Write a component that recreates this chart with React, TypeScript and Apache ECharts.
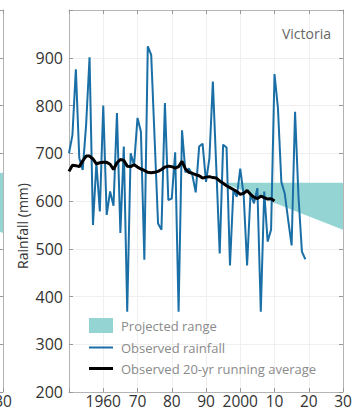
import { useEffect, useRef } from "react";
import * as echarts from "echarts";

// Annual rainfall, Victoria (mm)
const years = [
  1950, 1951, 1952, 1953, 1954, 1955, 1956, 1957, 1958, 1959,
  1960, 1961, 1962, 1963, 1964, 1965, 1966, 1967, 1968, 1969,
  1970, 1971, 1972, 1973, 1974, 1975, 1976, 1977, 1978, 1979,
  1980, 1981, 1982, 1983, 1984, 1985, 1986, 1987, 1988, 1989,
  1990, 1991, 1992, 1993, 1994, 1995, 1996, 1997, 1998, 1999,
  2000, 2001, 2002, 2003, 2004, 2005, 2006, 2007, 2008, 2009,
  2010, 2011, 2012, 2013, 2014, 2015, 2016, 2017, 2018, 2019,
];
const rainfall = [
  700, 738, 876, 690, 665, 760, 901, 550, 680, 578,
  800, 571, 620, 590, 784, 533, 714, 368, 700, 675,
  774, 745, 477, 924, 906, 730, 553, 540, 805, 602,
  605, 702, 368, 748, 660, 668, 655, 618, 714, 720,
  640, 690, 850, 670, 490, 718, 712, 465, 623, 609,
  668, 612, 465, 616, 595, 627, 368, 620, 515, 540,
  866, 795, 640, 615, 560, 507, 787, 610, 494, 478,
];
// 20-yr running average, 1950–2010
const runningAverage = [
  662, 675, 674, 672, 684, 694, 694, 688, 678, 680,
  681, 681, 677, 666, 680, 687, 685, 673, 672, 676,
  671, 667, 664, 660, 659, 660, 662, 666, 671, 673,
  672, 669, 672, 683, 667, 660, 658, 655, 653, 648,
  650, 651, 649, 648, 642, 637, 632, 628, 624, 620,
  614, 616, 622, 614, 608, 605, 610, 607, 604, 605,
  600,
];
// Projected range
const projYears = [1995, 2030];
const projLow = [638, 540];
const projHigh = [638, 638];
// Neighbouring panel's projected range (only its right edge shows)
const sideProjYears = [1995, 2030];
const sideProjLow = [640, 533];
const sideProjHigh = [640, 659];

const decadeTicks = [1950, 1960, 1970, 1980, 1990, 2000, 2010, 2020, 2030];
const decadeLabels = ["", "1960", "70", "80", "90", "2000", "10", "20", "30"];
const sideDecadeLabels = ["", "", "", "", "", "", "", "", "30"];

const FONT = "'Open Sans', 'Noto Sans', sans-serif";
const TEAL = "#94d5d3";
const BLUE = "#1a6fa6";
const FRAME = "#b4b4b4";

// Filled band between low and high values, drawn through the axis scales
function bandSeries(
  name: string,
  xs: number[],
  lo: number[],
  hi: number[],
  axisIndex: number
) {
  return {
    name,
    type: "custom",
    xAxisIndex: axisIndex,
    yAxisIndex: axisIndex,
    clip: true,
    silent: true,
    itemStyle: { color: TEAL },
    data: xs.map((x, i) => [x, lo[i], hi[i]]),
    encode: { x: 0, y: [1, 2] },
    renderItem: (params: any, api: any) => {
      if (params.dataIndex !== 0) return { type: "group", children: [] };
      const upper = xs.map((x, i) => api.coord([x, hi[i]]));
      const lower = xs.map((x, i) => api.coord([x, lo[i]])).reverse();
      return {
        type: "polygon",
        shape: { points: [...upper, ...lower] },
        style: { fill: TEAL },
      };
    },
  };
}

export default function App() {
  const ref = useRef<HTMLDivElement>(null);

  useEffect(() => {
    const chart = echarts.init(ref.current!, null, { renderer: "svg" });

    const xLabel = (labels: string[]) => (v: number) => {
      const i = decadeTicks.indexOf(v);
      return i >= 0 ? labels[i] : "";
    };
    const frameAxis = {
      axisLine: { show: true, lineStyle: { color: FRAME, width: 1 } },
      axisTick: { show: true, inside: true, length: 4, lineStyle: { color: "#999" } },
    };
    const xCommon = { type: "value", min: 1950, max: 2030, interval: 10 };
    const yCommon = { type: "value", min: 200, max: 1000, interval: 100 };
    const tickFont = { color: "#333", fontSize: 16, lineHeight: 16, fontFamily: FONT };
    const xTickFont = { color: "#333", fontSize: 15.5, lineHeight: 15, fontFamily: FONT };

    const pairs = (xs: number[], ys: number[]) => xs.map((x, i) => [x, ys[i]]);

    chart.setOption({
      animation: false,
      backgroundColor: "#ffffff",
      textStyle: { fontFamily: FONT },
      title: {
        text: "Victoria",
        right: 26,
        top: 26,
        padding: 0,
        textStyle: { fontSize: 14, fontWeight: "normal", color: "#666", fontFamily: FONT },
      },
      legend: {
        orient: "vertical",
        left: 89,
        top: 318,
        padding: 0,
        itemWidth: 24,
        itemHeight: 15,
        itemGap: 8,
        textStyle: { color: "#8a8a8a", fontSize: 13, fontFamily: FONT, padding: [0, 0, 0, 3] },
        data: [
          { name: "Projected range", icon: "rect", itemStyle: { color: TEAL } },
          { name: "Observed rainfall", icon: "path://M0,0H24V2H0Z", itemStyle: { color: BLUE } },
          {
            name: "Observed 20-yr running average",
            icon: "path://M0,0H24V3H0Z",
            itemStyle: { color: "#000" },
          },
        ],
      },
      grid: [
        { left: 69, right: 14, top: 10, bottom: 18, outerBoundsMode: "none" },
        { right: 354, width: 274, top: 10, bottom: 18, outerBoundsMode: "none" },
      ],
      xAxis: [
        {
          ...xCommon,
          gridIndex: 0,
          position: "bottom",
          ...frameAxis,
          axisLabel: { formatter: xLabel(decadeLabels), margin: 1, ...xTickFont },
          splitLine: { show: true, lineStyle: { color: "#efefef" } },
        },
        {
          ...xCommon,
          gridIndex: 0,
          position: "top",
          ...frameAxis,
          axisLabel: { show: false },
          splitLine: { show: false },
        },
        {
          ...xCommon,
          gridIndex: 1,
          position: "bottom",
          ...frameAxis,
          axisLabel: { formatter: xLabel(sideDecadeLabels), margin: 1, ...xTickFont },
          splitLine: { show: false },
        },
        {
          ...xCommon,
          gridIndex: 1,
          position: "top",
          ...frameAxis,
          axisLabel: { show: false },
          splitLine: { show: false },
        },
      ],
      yAxis: [
        {
          ...yCommon,
          gridIndex: 0,
          position: "left",
          ...frameAxis,
          axisLabel: {
            formatter: (v: number) => (v === 1000 ? "" : String(v)),
            margin: 6,
            ...tickFont,
          },
          splitLine: { show: true, lineStyle: { color: "#efefef" } },
        },
        {
          ...yCommon,
          gridIndex: 0,
          position: "right",
          ...frameAxis,
          axisLabel: { show: false },
          splitLine: { show: false },
        },
        {
          ...yCommon,
          gridIndex: 1,
          position: "right",
          ...frameAxis,
          axisLabel: { show: false },
          splitLine: { show: false },
        },
      ],
      graphic: [
        {
          type: "text",
          x: 22,
          y: 226,
          rotation: Math.PI / 2,
          style: {
            text: "Rainfall (mm)",
            fill: "#333",
            fontSize: 14,
            fontFamily: FONT,
            textAlign: "center",
            textVerticalAlign: "middle",
          },
        },
      ],
      series: [
        bandSeries("side-range", sideProjYears, sideProjLow, sideProjHigh, 2),
        bandSeries("Projected range", projYears, projLow, projHigh, 0),
        {
          name: "Observed rainfall",
          type: "line",
          xAxisIndex: 0,
          yAxisIndex: 0,
          symbol: "none",
          color: BLUE,
          lineStyle: { color: BLUE, width: 2 },
          data: pairs(years, rainfall),
        },
        {
          name: "Observed 20-yr running average",
          type: "line",
          xAxisIndex: 0,
          yAxisIndex: 0,
          symbol: "none",
          color: "#000",
          lineStyle: { color: "#000", width: 3 },
          data: pairs(years.slice(0, runningAverage.length), runningAverage),
        },
      ],
    });

    return () => chart.dispose();
  }, []);

  return (
    <div
      ref={ref}
      style={{ position: "fixed", left: 0, top: 0, width: 357, height: 410, background: "#fff" }}
    />
  );
}
